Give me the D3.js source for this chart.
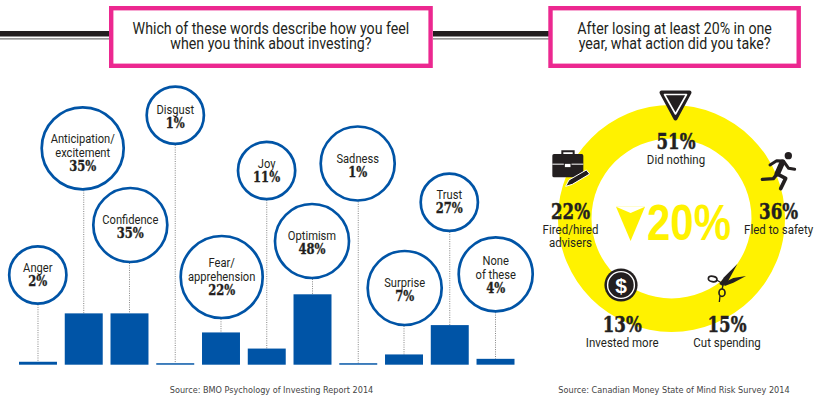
<!DOCTYPE html>
<html><head><meta charset="utf-8">
<script src="https://cdn.jsdelivr.net/npm/d3@7"></script>
<style>html,body{margin:0;padding:0;background:#fff}svg{display:block}</style>
</head><body><svg id="c" width="822" height="400"></svg>
<script>
// ---- data: left panel
const emotionLabels = [["Anger"],["Anticipation/","excitement"],["Confidence"],["Disgust"],["Fear/","apprehension"],["Joy"],["Optimism"],["Sadness"],["Surprise"],["Trust"],["None","of these"]];
const emotionValues = [2,35,35,1,22,11,48,1,7,27,4];
const emotionPctText = ["2%","35%","35%","1%","22%","11%","48%","1%","7%","27%","4%"];
// ---- data: right panel
const actionLabels = [["Did nothing"],["Fled to safety"],["Cut spending"],["Invested more"],["Fired/hired","advisers"]];
const actionValues = ["51%","36%","15%","13%","22%"];
const centreFigure = "20%";
const titles = [["Which of these words describe how you feel","when you think about investing?"],["After losing at least 20% in one","year, what action did you take?"]];
const sources = ["Source: BMO Psychology of Investing Report 2014","Source: Canadian Money State of Mind Risk Survey 2014"];

// ---- layout (bubble placement, separate from values)
const bubbleCx = [37.8,82.7,130.3,175.3,221.7,266.6,312,357.7,404.7,449.3,495.7];
const bubbleCy = [275,148.3,225,115.3,277,170.5,241,163.5,288,202.3,274.3];
const bubbleR  = [28.6,41,37,28.6,41,28.6,37,37,37,28.6,37];
const bubbleDy = [-2.7,-5,-1,-1.3,-10,-2.2,-1,-0.8,-1.3,-3.3,-9.3];
const actionX = [676,778.6,727,622.2,570.5];
const actionY = [149,219,332,332,219];

const INK="#231f20", BLUE="#0054a6", PINK="#ec2890", YEL="#fff200";
const svg=d3.select("#c");
const SANS="Roboto, sans-serif", SLAB="'DejaVu Serif', serif";

// rules
[[0,109],[433,549]].forEach(([a,b])=>{
  svg.append("rect").attr("x",a).attr("y",31).attr("width",b-a).attr("height",5.5).attr("fill",INK);
  svg.append("rect").attr("x",a).attr("y",38.4).attr("width",b-a).attr("height",1).attr("fill","#555");
});
// title boxes
[[111.2,8.2,319.4,57.6],[550.5,8.2,248.2,57.6]].forEach(([x,y,w,h],i)=>{
  svg.append("rect").attr("x",x).attr("y",y).attr("width",w).attr("height",h)
    .attr("fill","#fff").attr("stroke",PINK).attr("stroke-width",4.4);
  svg.selectAll(null).data(titles[i]).join("text")
    .attr("transform",(d,k)=>`translate(${x+w/2},${33.5+k*15.6}) scale(0.91,1)`)
    .attr("text-anchor","middle").attr("font-family",SANS).attr("font-size",15.6).attr("fill",INK).text(d=>d);
});

// scales
const x=d3.scaleBand().domain(d3.range(emotionValues.length)).range([19,514.5]).paddingInner(0.17).paddingOuter(0);
const y=d3.scaleLinear().domain([0,48]).range([364.7,294.3]);

// leaders
svg.append("g").selectAll("line").data(emotionValues).join("line")
  .attr("x1",(d,i)=>x(i)+x.bandwidth()/2).attr("x2",(d,i)=>x(i)+x.bandwidth()/2)
  .attr("y1",(d,i)=>bubbleCy[i]+bubbleR[i]+1).attr("y2",d=>y(d))
  .attr("stroke","#777").attr("stroke-width",0.9).attr("stroke-dasharray","1 1.3");
// bars
svg.append("g").selectAll("rect").data(emotionValues).join("rect")
  .attr("x",(d,i)=>x(i)).attr("width",x.bandwidth()).attr("y",d=>y(d)).attr("height",d=>y(0)-y(d)).attr("fill",BLUE);
// bubbles
const bub=svg.append("g").selectAll("g").data(emotionValues).join("g")
  .attr("transform",(d,i)=>`translate(${bubbleCx[i]},${bubbleCy[i]})`);
bub.append("circle").attr("r",(d,i)=>bubbleR[i]).attr("fill","#fff").attr("stroke",BLUE).attr("stroke-width",2.7);
bub.each(function(d,i){
  const g=d3.select(this); const L=emotionLabels[i];
  L.forEach((t,k)=>g.append("text").attr("transform",`translate(0,${bubbleDy[i]+k*13.9}) scale(0.9,1)`).attr("text-anchor","middle")
    .attr("font-family",SANS).attr("font-size",12.4).attr("fill",INK).text(t));
  g.append("text").attr("transform",`translate(0,${bubbleDy[i]+L.length*13.9}) scale(0.77,1)`).attr("text-anchor","middle")
    .attr("font-family",SLAB).attr("font-weight",700).attr("font-size",15).attr("fill",INK)
    .attr("stroke",INK).attr("stroke-width",0.35).text(emotionPctText[i]);
});
// sources
svg.selectAll(null).data(sources).join("text")
  .attr("x",(d,i)=>i?674:271.5).attr("y",392.5).attr("text-anchor","middle")
  .attr("font-family","'DejaVu Sans', sans-serif").attr("font-size",8.13).attr("fill","#444").text(d=>d);

// ring
const arc=d3.arc().innerRadius(80).outerRadius(113.5).startAngle(0).endAngle(2*Math.PI);
svg.append("path").attr("d",arc()).attr("transform","translate(671.5,218.4)").attr("fill",YEL);
// centre figure
svg.append("path").attr("d","M616,206.7L645,206.7L630.6,241Z").attr("fill",YEL);
svg.append("path").attr("d","M616,206.7L630.6,213L645,206.7Z").attr("fill","#fff");
svg.append("text").attr("x",647).attr("y",240).attr("textLength",84).attr("lengthAdjust","spacingAndGlyphs")
  .attr("font-family","'Liberation Sans', sans-serif").attr("font-weight",700).attr("font-size",50).attr("fill",YEL).text(centreFigure);
// action labels
actionValues.forEach((v,i)=>{
  svg.append("text").attr("transform",`translate(${actionX[i]},${actionY[i]}) scale(0.74,1)`).attr("text-anchor","middle")
    .attr("font-family",SLAB).attr("font-weight",700).attr("font-size",22.5).attr("fill",INK)
    .attr("stroke",INK).attr("stroke-width",0.5).text(v);
  actionLabels[i].forEach((t,k)=>svg.append("text").attr("transform",`translate(${actionX[i]},${actionY[i]+14.8+k*13.4}) scale(0.885,1)`).attr("text-anchor","middle")
    .attr("font-family",SANS).attr("font-size",13).attr("fill",INK).text(t));
});

// icons (pictograms)
// yield sign
const sign=svg.append("g").attr("stroke-linejoin","round");
sign.append("path").attr("d","M661.5,92.5L689.5,92.5L675.5,118.5Z").attr("fill",INK).attr("stroke",INK).attr("stroke-width",4);
sign.append("path").attr("d","M664.5,94.5L686.5,94.5L675.5,114Z").attr("fill",INK).attr("stroke","#fff").attr("stroke-width",1.6);
// briefcase
const bc=svg.append("g").attr("transform","translate(545,140) scale(0.3333)");
bc.append("path").attr("d","M52,44L52,34L86,34L86,44").attr("fill","none").attr("stroke",INK).attr("stroke-width",6);
bc.append("rect").attr("x",22).attr("y",42).attr("width",93).attr("height",70).attr("rx",5).attr("fill",INK);
bc.append("rect").attr("x",22).attr("y",71).attr("width",93).attr("height",3).attr("fill","#fff");
bc.append("rect").attr("x",58).attr("y",70).attr("width",20).attr("height",13).attr("fill","#fff").attr("stroke",INK).attr("stroke-width",3);
bc.append("path").attr("d","M62,139L72,120L124,90L134,102L82,133Z").attr("fill",INK).attr("stroke","#fff").attr("stroke-width",3);
// runner
const run=svg.append("g").attr("transform","translate(740,145) scale(0.3333)").attr("fill","none").attr("stroke",INK).attr("stroke-linecap","round").attr("stroke-linejoin","round");
run.append("circle").attr("cx",145).attr("cy",32).attr("r",11).attr("fill",INK).attr("stroke","none");
run.append("path").attr("d","M90,60L110,47L130,48L146,70L164,73").attr("stroke-width",9);
run.append("path").attr("d","M127,52L112,86").attr("stroke-width",17);
run.append("path").attr("d","M112,86L100,101L67,103").attr("stroke-width",10);
run.append("path").attr("d","M114,88L137,100L122,131").attr("stroke-width",11);
// coin
const coin=svg.append("g").attr("transform","translate(621,285)");
coin.append("circle").attr("r",16.6).attr("fill",INK);
coin.append("circle").attr("r",13.4).attr("fill","none").attr("stroke","#fff").attr("stroke-width",1.4);
coin.append("text").attr("y",7.6).attr("text-anchor","middle").attr("font-family","'Liberation Sans',sans-serif").attr("font-weight",700).attr("font-size",21).attr("fill","#fff").text("$");
// scissors
const sc=svg.append("g").attr("transform","translate(700,260) scale(0.3333)");
sc.append("path").attr("d","M58,72L72,52L112,12L84,64L68,78Z").attr("fill",INK);
sc.append("path").attr("d","M70,68L100,54L138,48L100,68L74,78Z").attr("fill",INK);
sc.append("ellipse").attr("cx",38).attr("cy",57).attr("rx",13).attr("ry",8).attr("fill","none").attr("stroke",INK).attr("stroke-width",5).attr("transform","rotate(10 38 57)");
sc.append("ellipse").attr("cx",66).attr("cy",98).attr("rx",9).attr("ry",11).attr("fill","none").attr("stroke",INK).attr("stroke-width",5);
sc.append("path").attr("d","M50,60L70,72M70,72L66,88M60,108L58,126").attr("fill","none").attr("stroke",INK).attr("stroke-width",4);
</script></body></html>
